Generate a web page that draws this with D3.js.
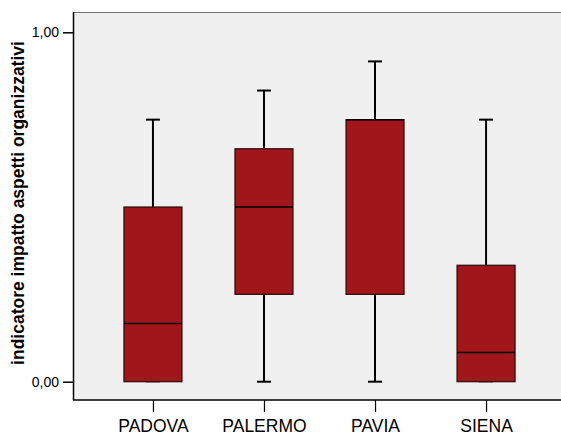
<!DOCTYPE html>
<html>
<head>
<meta charset="utf-8">
<script src="https://cdn.jsdelivr.net/npm/d3@7"></script>
<style>
  html, body { margin: 0; padding: 0; background: #fff; }
  svg { display: block; font-family: "Liberation Sans", Arial, sans-serif; }
</style>
</head>
<body>
<svg id="chart" width="561" height="436"></svg>
<script>
// Box plot summaries per city: whisker low, Q1, median, Q3, whisker high
const cities  = ["PADOVA", "PALERMO", "PAVIA", "SIENA"];
const whiskLo = [0, 0, 0, 0];
const q1      = [0, 0.25, 0.25, 0];
const median  = [0.1667, 0.5, 0.75, 0.0833];
const q3      = [0.5, 0.6667, 0.75, 0.3333];
const whiskHi = [0.75, 0.8333, 0.9167, 0.75];
const yTicks  = [0, 1];
const yTitle  = "indicatore impatto aspetti organizzativi";

const data = cities.map((c, i) => ({
  city: c, lo: whiskLo[i], q1: q1[i], med: median[i], q3: q3[i], hi: whiskHi[i]
}));

const svg = d3.select("#chart");
const plot = { left: 73, top: 12, right: 566, bottom: 400 };

const y = d3.scaleLinear().domain([0, 1]).range([381.7, 32.3]);
const x = d3.scalePoint().domain(cities).range([plot.left, plot.right]).padding(0.72);
const boxW = 58, capW = 14;

// plot background
svg.append("rect")
  .attr("x", plot.left).attr("y", plot.top)
  .attr("width", plot.right - plot.left).attr("height", plot.bottom - plot.top)
  .attr("fill", "#f0f0f0");
// top border
svg.append("line")
  .attr("x1", plot.left).attr("x2", plot.right)
  .attr("y1", plot.top + 0.5).attr("y2", plot.top + 0.5)
  .attr("stroke", "#777").attr("stroke-width", 1);

const g = svg.selectAll("g.box").data(data).join("g").attr("class", "box");

// whiskers
g.append("line")
  .attr("x1", d => x(d.city)).attr("x2", d => x(d.city))
  .attr("y1", d => y(d.hi)).attr("y2", d => y(d.q3))
  .attr("stroke", "#000").attr("stroke-width", 2);
g.append("line")
  .attr("x1", d => x(d.city)).attr("x2", d => x(d.city))
  .attr("y1", d => y(d.q1)).attr("y2", d => y(d.lo))
  .attr("stroke", "#000").attr("stroke-width", 2);
// caps
g.append("line")
  .attr("x1", d => x(d.city) - capW / 2).attr("x2", d => x(d.city) + capW / 2)
  .attr("y1", d => y(d.hi)).attr("y2", d => y(d.hi))
  .attr("stroke", "#000").attr("stroke-width", 2);
g.append("line")
  .attr("x1", d => x(d.city) - capW / 2).attr("x2", d => x(d.city) + capW / 2)
  .attr("y1", d => y(d.lo)).attr("y2", d => y(d.lo))
  .attr("stroke", d => d.lo === d.q1 ? "#888" : "#000").attr("stroke-width", 2);

// boxes
g.append("rect")
  .attr("x", d => x(d.city) - boxW / 2)
  .attr("y", d => y(d.q3))
  .attr("width", boxW)
  .attr("height", d => y(d.q1) - y(d.q3))
  .attr("fill", "#a0161b")
  .attr("stroke", "#2a0a0a").attr("stroke-width", 1.2);
// medians
g.append("line")
  .attr("x1", d => x(d.city) - boxW / 2).attr("x2", d => x(d.city) + boxW / 2)
  .attr("y1", d => y(d.med)).attr("y2", d => y(d.med))
  .attr("stroke", "#000").attr("stroke-width", 1.5);

// y axis
const fmt = v => d3.format(".2f")(v).replace(".", ",");
const yAxis = svg.append("g")
  .attr("transform", `translate(${plot.left},0)`)
  .call(d3.axisLeft(y).tickValues(yTicks).tickFormat(fmt).tickSize(10).tickSizeOuter(0));
yAxis.select(".domain").remove();
yAxis.selectAll(".tick line").attr("stroke", "#000").attr("stroke-width", 1.5);
yAxis.selectAll(".tick text").attr("font-size", 14).attr("fill", "#000")
  .attr("font-family", "Liberation Sans, Arial, sans-serif").attr("dx", -1);
svg.append("line")
  .attr("x1", plot.left + 0.5).attr("x2", plot.left + 0.5)
  .attr("y1", plot.top).attr("y2", plot.bottom)
  .attr("stroke", "#000").attr("stroke-width", 1.5);

// x axis
const xAxis = svg.append("g")
  .attr("transform", `translate(0,${plot.bottom})`)
  .call(d3.axisBottom(x).tickSize(12).tickSizeOuter(0).tickPadding(8));
xAxis.select(".domain").remove();
xAxis.selectAll(".tick line").attr("stroke", "#000").attr("stroke-width", 1.2);
xAxis.selectAll(".tick text").attr("font-size", 17.5).attr("fill", "#000")
  .attr("font-family", "Liberation Sans, Arial, sans-serif");
svg.append("line")
  .attr("x1", plot.left).attr("x2", plot.right)
  .attr("y1", plot.bottom).attr("y2", plot.bottom)
  .attr("stroke", "#000").attr("stroke-width", 1.5);

// y title
svg.append("text")
  .attr("transform", "translate(24,203) rotate(-90)")
  .attr("text-anchor", "middle")
  .attr("font-size", 17.5).attr("font-weight", "bold")
  .text(yTitle);
</script>
</body>
</html>
